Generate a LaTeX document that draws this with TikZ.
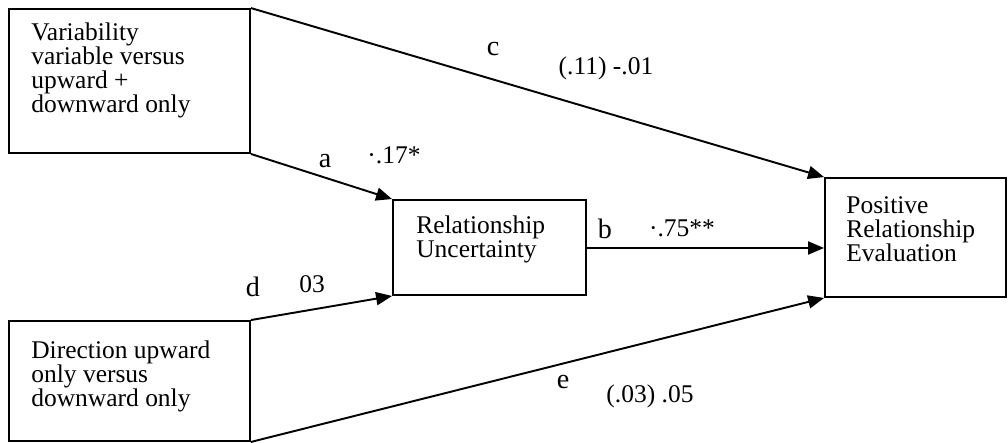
\documentclass[tikz,border=0pt]{standalone}
\usepackage{fontspec}
\setmainfont{Liberation Serif}
\usetikzlibrary{arrows.meta}

\begin{document}
\begin{tikzpicture}[x=0.02cm,y=-0.02cm,>={Triangle[length=0.32cm,width=0.26cm]},
  box/.style={draw=black,line width=1.1pt,inner sep=0pt},
  boxtext/.style={anchor=north west,align=left,inner sep=0pt,font=\fontsize{14.5pt}{13.7pt}\selectfont},
  pathname/.style={anchor=base,inner sep=0pt,font=\fontsize{16pt}{18pt}\selectfont},
  coef/.style={anchor=base,inner sep=0pt,font=\fontsize{14.5pt}{16pt}\selectfont},
  link/.style={->,line width=1.1pt}]
\useasboundingbox (0,0) rectangle (1008,443);
% boxes
\node[box,minimum width=4.82cm,minimum height=2.88cm] (var) at (129.5,81) {};
\node[box,minimum width=4.82cm,minimum height=2.40cm] (dir) at (129.5,381) {};
\node[box,minimum width=3.86cm,minimum height=1.90cm] (unc) at (489.5,247.5) {};
\node[box,minimum width=3.62cm,minimum height=2.38cm] (eval) at (915.5,237.5) {};
% box texts
\node[boxtext] (vartxt) at (31,22) {Variability\\variable versus\\upward +\\downward only};
\node[boxtext] (dirtxt) at (31,340) {Direction upward\\only versus\\downward only};
\node[boxtext] (unctxt) at (416,215) {Relationship\\Uncertainty};
\node[boxtext] (evaltxt) at (846,196) {Positive\\Relationship\\Evaluation};
% paths
\draw[link] (var.north east) -- (eval.north west);
\draw[link] (var.south east) -- (unc.north west);
\draw[link] ([yshift=-0.01cm]unc.east) -- ([yshift=-0.01cm]unc.east -| eval.west);
\draw[link] (dir.north east) -- (unc.south west);
\draw[link] (dir.south east) -- (eval.south west);
% path labels
\node[pathname] (lc) at (493,55) {c};
\node[coef] (cc) at (606,74) {(.11) -.01};
\node[pathname] (la) at (325,167) {a};
\node[coef] (ca) at (394,163) {\textperiodcentered.17*};
\node[pathname] (ld) at (253,296) {d};
\node[coef] (cd) at (312,292) {03};
\node[pathname] (lb) at (605,238) {b};
\node[coef] (cb) at (682,236) {\textperiodcentered.75**};
\node[pathname] (le) at (563,388) {e};
\node[coef] (ce) at (650,402) {(.03) .05};
\end{tikzpicture}
\end{document}
